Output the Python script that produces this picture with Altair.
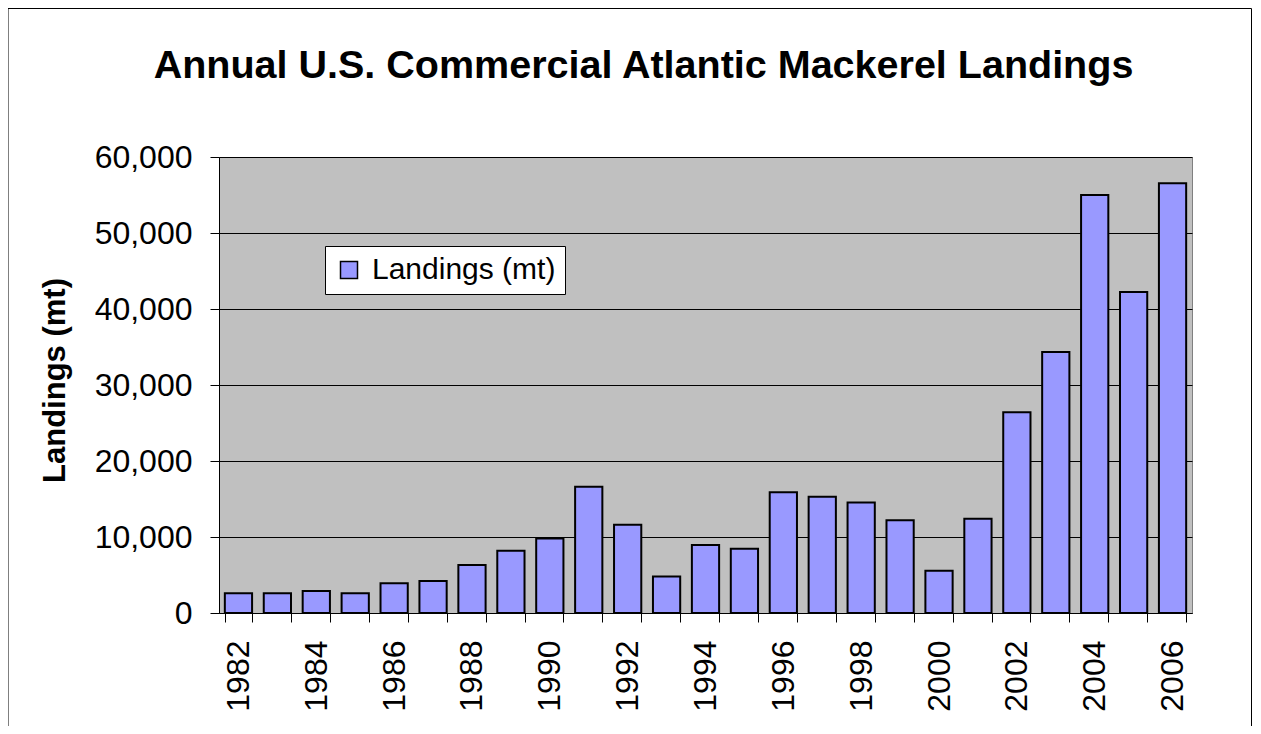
import altair as alt
import pandas as pd

# ---- data ----
years = list(range(1982, 2007))
landings = [2600, 2600, 2900, 2600, 3900, 4200, 6300, 8200, 9800, 16600,
            11600, 4800, 8950, 8450, 15900, 15300, 14550, 12200, 5550, 12400,
            26400, 34350, 55000, 42250, 56550]
series_name = "Landings (mt)"
y_ticks = [0, 10000, 20000, 30000, 40000, 50000, 60000]
title_text = "Annual U.S. Commercial Atlantic Mackerel Landings"

df = pd.DataFrame({"Year": years, "Landings": landings,
                   "Series": [series_name] * len(years)})
frame_df = pd.DataFrame({"k": [0]})

FONT = "Liberation Sans"

bars = alt.Chart(df).mark_bar(stroke="black", strokeWidth=2).encode(
    x=alt.X("Year:O", title=None,
            scale=alt.Scale(paddingInner=0.3, paddingOuter=0.15),
            axis=alt.Axis(labelAngle=-90,
                          labelExpr="datum.value % 2 == 0 ? datum.label : ''",
                          tickBand="extent", grid=False, domainColor="black",
                          tickColor="black", tickSize=9, labelPadding=18,
                          labelFontSize=32, labelColor="black", labelFont=FONT,
                          labelOverlap=False, labelBound=False)),
    y=alt.Y("Landings:Q", title="Landings (mt)",
            scale=alt.Scale(domain=[0, 60000], nice=False),
            axis=alt.Axis(values=y_ticks, format=",d", grid=True,
                          gridColor="black", gridOpacity=1, gridWidth=1,
                          domainColor="black", tickColor="black", tickSize=9,
                          labelPadding=18, labelFontSize=32, labelColor="black",
                          labelFont=FONT, titleFont=FONT, titleFontSize=31,
                          titleFontWeight="bold", titleColor="black",
                          titleAngle=270, titleX=-164, titleY=223,
                          titleAlign="center", titleBaseline="middle")),
    color=alt.Color("Series:N", scale=alt.Scale(range=["#9999FF"]),
                    legend=alt.Legend(title=None, orient="none",
                                      legendX=106, legendY=89,
                                      fillColor="white", strokeColor="black",
                                      padding=9, symbolType="square",
                                      symbolSize=289, symbolStrokeColor="black",
                                      symbolStrokeWidth=1.5,
                                      symbolFillColor="#9999FF",
                                      labelFontSize=30, labelFont=FONT,
                                      labelColor="black", labelOffset=8,
                                      labelLimit=500)),
)

frame = alt.Chart(frame_df).mark_rect(fillOpacity=0, stroke="black",
                                      strokeWidth=1).encode(
    x=alt.value(-211), x2=alt.value(1032.5),
    y=alt.value(-148.5), y2=alt.value(700),
)

chart = alt.layer(bars, frame).properties(
    width=973, height=456,
    title=alt.TitleParams(title_text, font=FONT, fontSize=39.5,
                          fontWeight="bold", color="black", anchor="middle",
                          frame="group", dx=-62, dy=109, offset=0,
                          baseline="alphabetic"),
    autosize=alt.AutoSizeParams(type="none"),
    padding={"left": 211, "top": 149, "right": 60, "bottom": 113},
).configure(
    background="white",
    view=alt.ViewConfig(fill="#C0C0C0", stroke="#808080", strokeWidth=1),
)

chart.save("out.html", embed_options={"renderer": "svg", "actions": False})
